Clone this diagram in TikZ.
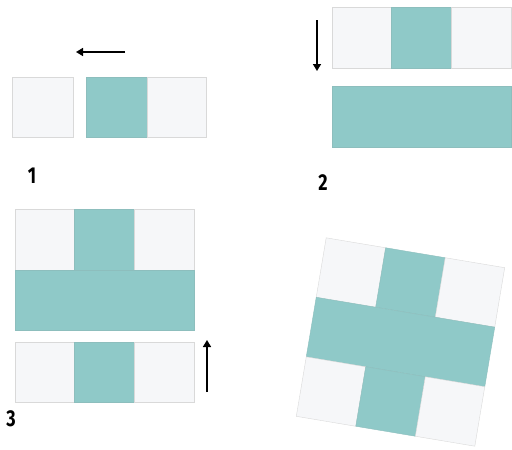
\documentclass[tikz,border=0pt]{standalone}
\usepackage{fontspec}
\setmainfont{Fira Sans}
\usetikzlibrary{arrows.meta}
\definecolor{tealc}{HTML}{8FC9C8}
\definecolor{cellw}{HTML}{F6F7F9}
\begin{document}
\begin{tikzpicture}[x=1pt,y=-1pt,
  wcell/.style={fill=cellw,draw=gray!30,line width=0.4pt},
  tcell/.style={fill=tealc,draw=tealc!85!gray,line width=0.4pt},
  movearrow/.style={line width=1.6pt,-{Triangle[length=7pt,width=8pt]}},
  numlabel/.style={font=\bfseries\fontsize{23}{23}\selectfont,xscale=0.78,inner sep=0pt}]
\useasboundingbox (0,0) rectangle (512,450);
% panel 1
\draw[wcell] (12,77) rectangle (73,137);
\draw[tcell] (86,77) rectangle (147,137);
\draw[wcell] (147,77) rectangle (206,137);
\coordinate (a1s) at (125,52);
\coordinate (a1e) at (76,52);
\draw[movearrow] (a1s) -- (a1e);
\node[numlabel] (n1) at (32,176) {1};
% panel 2
\draw[wcell] (332,7) rectangle (391,68);
\draw[tcell] (391,7) rectangle (451,68);
\draw[wcell] (451,7) rectangle (511,68);
\draw[tcell] (332,86) rectangle (511,147);
\coordinate (a2s) at (317,20);
\coordinate (a2e) at (317,71);
\draw[movearrow] (a2s) -- (a2e);
\node[numlabel] (n2) at (323,183) {2};
% panel 3
\draw[wcell] (15,209) rectangle (74,270);
\draw[tcell] (74,209) rectangle (134,270);
\draw[wcell] (134,209) rectangle (194,270);
\draw[tcell] (15,270) rectangle (194,330);
\draw[wcell] (15,342) rectangle (74,402);
\draw[tcell] (74,342) rectangle (134,402);
\draw[wcell] (134,342) rectangle (194,402);
\coordinate (a3s) at (207,392);
\coordinate (a3e) at (207,340);
\draw[movearrow] (a3s) -- (a3e);
\node[numlabel] (n3) at (11,419) {3};
% panel 4
\begin{scope}[shift={(400.5,342)},rotate=-9.5]
  \draw[wcell] (-90.5,-90.5) rectangle (-30.2,-30.2);
  \draw[tcell] (-30.2,-90.5) rectangle (30.2,-30.2);
  \draw[wcell] (30.2,-90.5) rectangle (90.5,-30.2);
  \draw[tcell] (-90.5,-30.2) rectangle (90.5,30.2);
  \draw[wcell] (-90.5,30.2) rectangle (-30.2,90.5);
  \draw[tcell] (-30.2,30.2) rectangle (30.2,90.5);
  \draw[wcell] (30.2,30.2) rectangle (90.5,90.5);
\end{scope}
\end{tikzpicture}
\end{document}
